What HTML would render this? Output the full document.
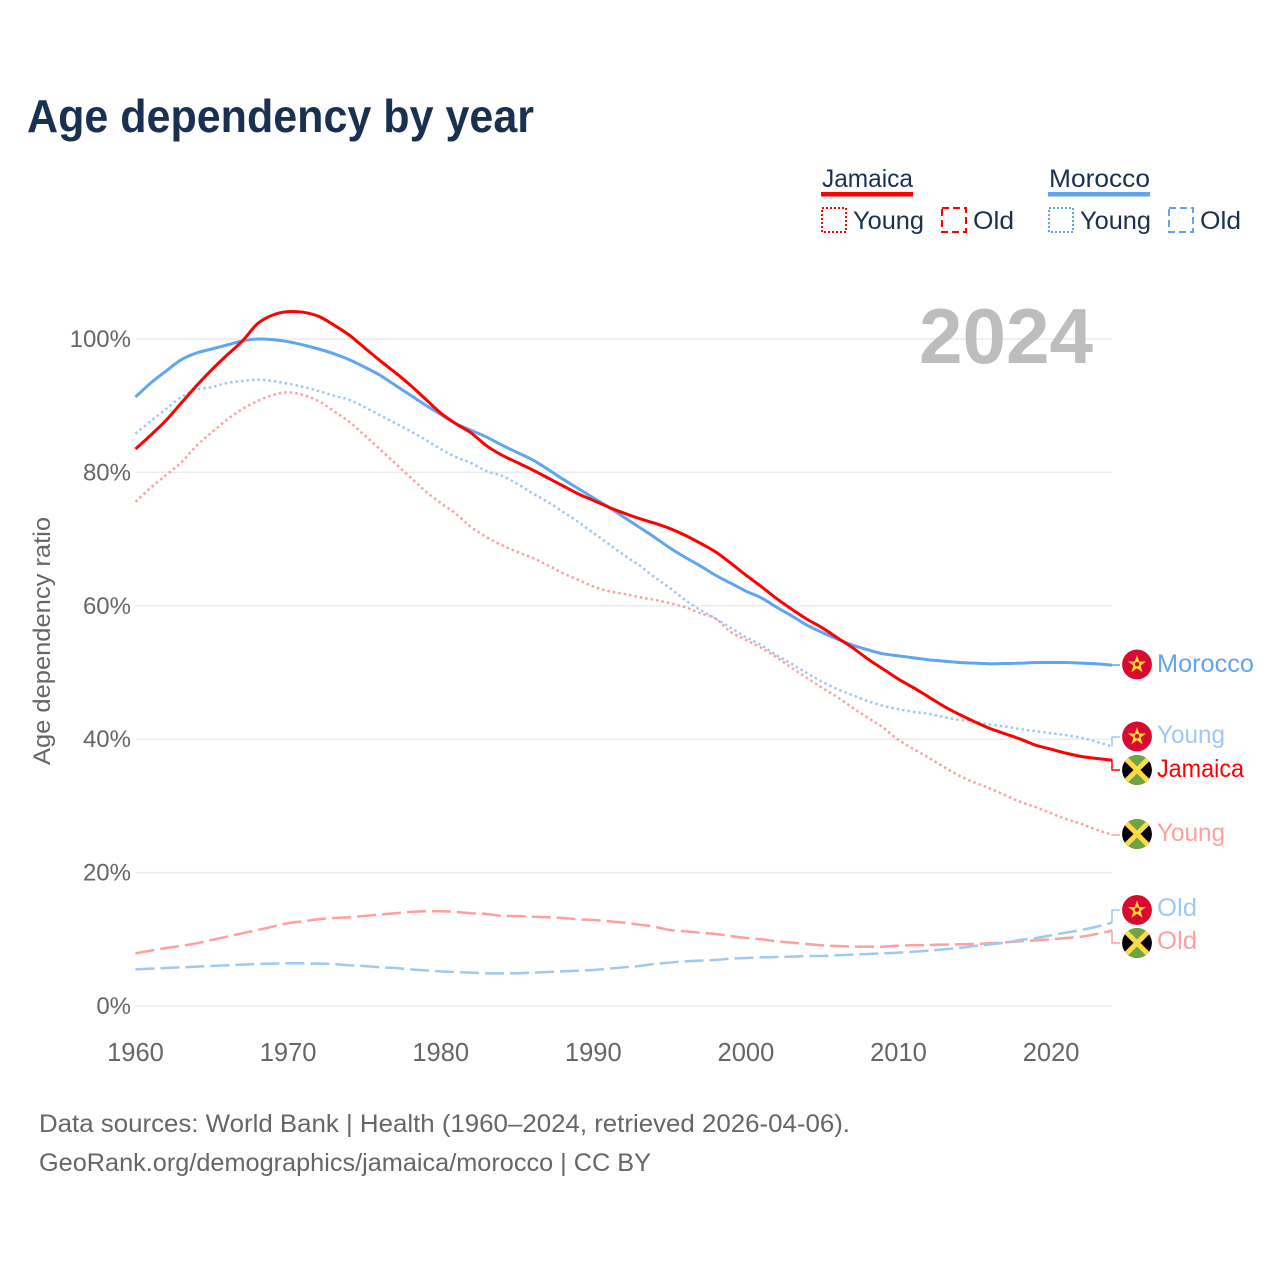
<!DOCTYPE html>
<html lang="en">
<head>
<meta charset="utf-8">
<title>Age dependency by year</title>
<style>
html,body{margin:0;padding:0;background:#fff;width:1280px;height:1280px;overflow:hidden}
svg{display:block}
text{font-family:"Liberation Sans",sans-serif}
</style>
</head>
<body>
<svg id="chart" xmlns="http://www.w3.org/2000/svg" width="1280" height="1280" viewBox="0 0 1280 1280">
  <defs>
    <clipPath id="flag-clip"><circle cx="0" cy="0" r="15"/></clipPath>
    <g id="flag-morocco" clip-path="url(#flag-clip)">
      <circle r="15" fill="#d80a30"/>
      <polygon points="0,-9.5 2.3,-3 9,-3 3.6,1.1 5.6,7.7 0,3.8 -5.6,7.7 -3.6,1.1 -9,-3 -2.3,-3" fill="#fdd835"/>
      <circle r="2.2" cy="-0.3" fill="#d80a30"/>
    </g>
    <g id="flag-jamaica" clip-path="url(#flag-clip)">
      <circle r="15" fill="#000"/>
      <polygon points="-15,-15 15,-15 0,0" fill="#6da544"/>
      <polygon points="-15,15 15,15 0,0" fill="#6da544"/>
      <path d="M-15,-15L15,15M15,-15L-15,15" stroke="#ffda44" stroke-width="5"/>
    </g>
  </defs>

  <text x="27" y="132" font-size="46" font-weight="700" fill="#1a3050" textLength="507" lengthAdjust="spacingAndGlyphs">Age dependency by year</text>

  <g>
    <text x="822" y="187" font-size="25" fill="#1a3050" textLength="91" lengthAdjust="spacingAndGlyphs">Jamaica</text>
    <rect x="821" y="192" width="92" height="4.5" fill="#ff0000"/>
    <rect x="822" y="208" width="24" height="24" fill="none" stroke="#ff0000" stroke-width="2" stroke-dasharray="2 2"/>
    <text x="853" y="229" font-size="25" fill="#1a3050" textLength="71" lengthAdjust="spacingAndGlyphs">Young</text>
    <rect x="942" y="208" width="24" height="24" fill="none" stroke="#ff0000" stroke-width="2" stroke-dasharray="7 4"/>
    <text x="973" y="229" font-size="25" fill="#1a3050" textLength="41" lengthAdjust="spacingAndGlyphs">Old</text>

    <text x="1049" y="187" font-size="25" fill="#1a3050" textLength="101" lengthAdjust="spacingAndGlyphs">Morocco</text>
    <rect x="1048" y="192" width="102" height="4.5" fill="#60a5ee"/>
    <rect x="1049" y="208" width="24" height="24" fill="none" stroke="#60a5ee" stroke-width="2" stroke-dasharray="2 2"/>
    <text x="1080" y="229" font-size="25" fill="#1a3050" textLength="71" lengthAdjust="spacingAndGlyphs">Young</text>
    <rect x="1169" y="208" width="24" height="24" fill="none" stroke="#60a5ee" stroke-width="2" stroke-dasharray="7 4"/>
    <text x="1200" y="229" font-size="25" fill="#1a3050" textLength="41" lengthAdjust="spacingAndGlyphs">Old</text>
  </g>

  <g id="grid"></g>
  <g id="ylabels"></g>
  <g id="xlabels"></g>

  <text transform="translate(50,765) rotate(-90)" x="0" y="0" font-size="24" fill="#666" textLength="248" lengthAdjust="spacingAndGlyphs">Age dependency ratio</text>

  <text x="919" y="363" font-size="78" font-weight="700" fill="#bdbdbd" textLength="174" lengthAdjust="spacingAndGlyphs">2024</text>

  <g id="series"></g>
  <g id="leaders"></g>

  <g>
    <use href="#flag-morocco" x="1137" y="664.5"/>
    <text x="1157" y="672" font-size="25" fill="#60a5ee" textLength="97" lengthAdjust="spacingAndGlyphs">Morocco</text>
    <use href="#flag-morocco" x="1137" y="736.5"/>
    <text x="1157" y="743" font-size="25" fill="#a0c8f5" textLength="68" lengthAdjust="spacingAndGlyphs">Young</text>
    <use href="#flag-jamaica" x="1137" y="770"/>
    <text x="1157" y="777" font-size="25" fill="#ff0000" textLength="87" lengthAdjust="spacingAndGlyphs">Jamaica</text>
    <use href="#flag-jamaica" x="1137" y="834"/>
    <text x="1157" y="841" font-size="25" fill="#ff9f9f" textLength="68" lengthAdjust="spacingAndGlyphs">Young</text>
    <use href="#flag-morocco" x="1137" y="910"/>
    <text x="1157" y="916" font-size="25" fill="#a0c8f5" textLength="40" lengthAdjust="spacingAndGlyphs">Old</text>
    <use href="#flag-jamaica" x="1137" y="943"/>
    <text x="1157" y="949" font-size="25" fill="#ff9f9f" textLength="40" lengthAdjust="spacingAndGlyphs">Old</text>
  </g>

  <text x="39" y="1132" font-size="25" fill="#666" textLength="811" lengthAdjust="spacingAndGlyphs">Data sources: World Bank | Health (1960–2024, retrieved 2026-04-06).</text>
  <text x="39" y="1171" font-size="25" fill="#666" textLength="612" lengthAdjust="spacingAndGlyphs">GeoRank.org/demographics/jamaica/morocco | CC BY</text>
</svg>
<script>
const startYear = 1960;
const yTicks = [0, 20, 40, 60, 80, 100];
const xTicks = [1960, 1970, 1980, 1990, 2000, 2010, 2020];

const jamaicaTotal = [83.5,85.6,87.8,90.4,93.0,95.4,97.6,99.7,102.3,103.6,104.1,104.0,103.4,102.1,100.6,98.7,96.8,95.0,93.1,91.0,88.9,87.3,85.9,84.0,82.6,81.5,80.4,79.2,78.0,76.8,75.8,74.8,73.9,73.1,72.4,71.6,70.6,69.4,68.1,66.4,64.6,62.9,61.1,59.5,58.0,56.7,55.2,53.7,52.0,50.5,49.0,47.7,46.3,44.9,43.7,42.6,41.6,40.8,40.0,39.1,38.5,37.9,37.4,37.1,36.85];
const moroccoTotal = [91.3,93.4,95.2,96.9,97.9,98.5,99.1,99.7,100.0,99.9,99.6,99.1,98.5,97.8,96.9,95.8,94.6,93.1,91.6,90.1,88.7,87.3,86.3,85.3,84.1,83.0,81.9,80.5,79.0,77.6,76.2,74.8,73.3,71.8,70.3,68.7,67.3,66.0,64.6,63.4,62.2,61.2,59.8,58.5,57.1,56.0,55.0,54.1,53.4,52.8,52.5,52.2,51.9,51.7,51.5,51.4,51.3,51.35,51.4,51.5,51.5,51.5,51.4,51.3,51.1];
const moroccoYoung = [85.8,87.7,89.5,91.3,92.4,92.8,93.4,93.7,93.9,93.7,93.3,92.8,92.2,91.5,90.9,89.8,88.6,87.4,86.2,84.9,83.5,82.3,81.4,80.2,79.5,78.3,76.9,75.6,74.1,72.6,70.9,69.3,67.6,66.1,64.3,62.7,60.9,59.4,58.1,56.7,55.3,54.1,52.6,51.3,49.9,48.6,47.5,46.6,45.7,45.0,44.5,44.1,43.8,43.3,42.9,42.6,42.2,41.9,41.5,41.2,40.9,40.6,40.2,39.6,38.9];
const jamaicaYoung = [75.6,77.7,79.6,81.5,84.0,86.0,87.9,89.5,90.7,91.6,92.0,91.6,90.7,89.2,87.6,85.6,83.5,81.4,79.3,77.2,75.4,73.8,71.8,70.3,69.1,68.1,67.2,66.1,64.9,63.9,62.9,62.2,61.8,61.3,60.9,60.4,59.8,58.9,58.1,56.1,54.9,53.7,52.3,50.7,49.2,47.7,46.3,44.7,43.2,41.7,39.9,38.5,37.2,35.8,34.5,33.5,32.6,31.6,30.6,29.8,28.9,28.0,27.3,26.4,25.7];
const jamaicaOld = [7.9,8.3,8.7,9.0,9.4,9.9,10.4,10.9,11.4,11.9,12.4,12.7,13.0,13.2,13.3,13.5,13.7,13.9,14.1,14.2,14.2,14.1,13.9,13.8,13.5,13.5,13.4,13.3,13.2,13.0,12.9,12.7,12.5,12.2,11.9,11.4,11.2,11.0,10.8,10.5,10.2,10.0,9.7,9.5,9.3,9.1,9.0,8.9,8.9,8.9,9.05,9.1,9.15,9.2,9.25,9.3,9.4,9.55,9.7,9.85,10.0,10.2,10.4,10.8,11.3];
const moroccoOld = [5.5,5.6,5.7,5.8,5.9,6.0,6.1,6.2,6.3,6.35,6.4,6.4,6.35,6.3,6.1,6.0,5.8,5.7,5.5,5.35,5.2,5.1,5.0,4.9,4.9,4.9,5.0,5.1,5.2,5.3,5.4,5.6,5.8,6.0,6.3,6.5,6.7,6.8,6.9,7.1,7.2,7.3,7.35,7.4,7.5,7.5,7.6,7.7,7.8,7.9,8.0,8.15,8.3,8.5,8.7,9.0,9.25,9.5,9.9,10.2,10.6,11.0,11.4,11.9,12.5];

const NS = 'http://www.w3.org/2000/svg';

function xScale(year) {
  return 135.5 + (year - startYear) * 15.26;
}
function yScale(value) {
  return 1006 - value * 6.67;
}
function make(tag, attrs, parent) {
  const el = document.createElementNS(NS, tag);
  for (const k in attrs) el.setAttribute(k, attrs[k]);
  parent.appendChild(el);
  return el;
}
function smoothPath(values) {
  const pts = values.map(function (v, i) {
    return [xScale(startYear + i), yScale(v)];
  });
  let d = 'M' + pts[0][0].toFixed(2) + ',' + pts[0][1].toFixed(2);
  for (let i = 0; i < pts.length - 1; i++) {
    const p0 = pts[Math.max(i - 1, 0)];
    const p1 = pts[i];
    const p2 = pts[i + 1];
    const p3 = pts[Math.min(i + 2, pts.length - 1)];
    d += 'C' + (p1[0] + (p2[0] - p0[0]) / 6).toFixed(2) + ',' + (p1[1] + (p2[1] - p0[1]) / 6).toFixed(2) +
         ' ' + (p2[0] - (p3[0] - p1[0]) / 6).toFixed(2) + ',' + (p2[1] - (p3[1] - p1[1]) / 6).toFixed(2) +
         ' ' + p2[0].toFixed(2) + ',' + p2[1].toFixed(2);
  }
  return d;
}

const gridLayer = document.getElementById('grid');
const yLabelLayer = document.getElementById('ylabels');
const xLabelLayer = document.getElementById('xlabels');
const seriesLayer = document.getElementById('series');
const leaderLayer = document.getElementById('leaders');

yTicks.forEach(function (t) {
  const line = make('line', {x1: 135.5, x2: 1112, y1: yScale(t), y2: yScale(t), stroke: '#ececec', 'stroke-width': 1.5}, gridLayer);
  
  
  const label = make('text', {x: 131, y: yScale(t) + 8, 'text-anchor': 'end', 'font-size': 24, fill: '#666'}, yLabelLayer);
  label.textContent = t + '%';
  
  
});

xTicks.forEach(function (t) {
  const label = make('text', {x: xScale(t), y: 1061, 'text-anchor': 'middle', 'font-size': 25.5, fill: '#666'}, xLabelLayer);
  label.textContent = String(t);
  
  
});

function drawSeries(values, name, color, width, dash) {
  const attrs = {d: smoothPath(values), fill: 'none', stroke: color, 'stroke-width': width, 'stroke-linejoin': 'round'};
  if (dash) attrs['stroke-dasharray'] = dash;
  const el = make('path', attrs, seriesLayer);
  
  
}

function drawLeader(values, labelY, name, color) {
  const endY = yScale(values[values.length - 1]);
  const el = make('polyline', {
    points: '1112,' + endY.toFixed(2) + ' 1112,' + labelY + ' 1120,' + labelY,
    fill: 'none', stroke: color, 'stroke-width': 1.5
  }, leaderLayer);
  
  
}

drawSeries(jamaicaOld, 'line-jamaica-old', '#ff9f9f', 2.5, '19 6');
drawSeries(moroccoOld, 'line-morocco-old', '#9fc8f2', 2.5, '19 6');
drawSeries(jamaicaYoung, 'line-jamaica-young', '#ff9f9f', 2.5, '2.5 3');
drawSeries(moroccoYoung, 'line-morocco-young', '#9fc8f2', 2.5, '2.5 3');
drawSeries(moroccoTotal, 'line-morocco-total', '#60a5ee', 3, '');
drawSeries(jamaicaTotal, 'line-jamaica-total', '#ff0000', 3, '');

drawLeader(moroccoTotal, 665, 'leader-morocco-total', '#60a5ee');
drawLeader(moroccoYoung, 737, 'leader-morocco-young', '#a0c8f5');
drawLeader(jamaicaTotal, 770, 'leader-jamaica-total', '#ff0000');
drawLeader(jamaicaYoung, 835, 'leader-jamaica-young', '#ff9f9f');
drawLeader(moroccoOld, 910, 'leader-morocco-old', '#a0c8f5');
drawLeader(jamaicaOld, 943, 'leader-jamaica-old', '#ff9f9f');
</script>
</body>
</html>
